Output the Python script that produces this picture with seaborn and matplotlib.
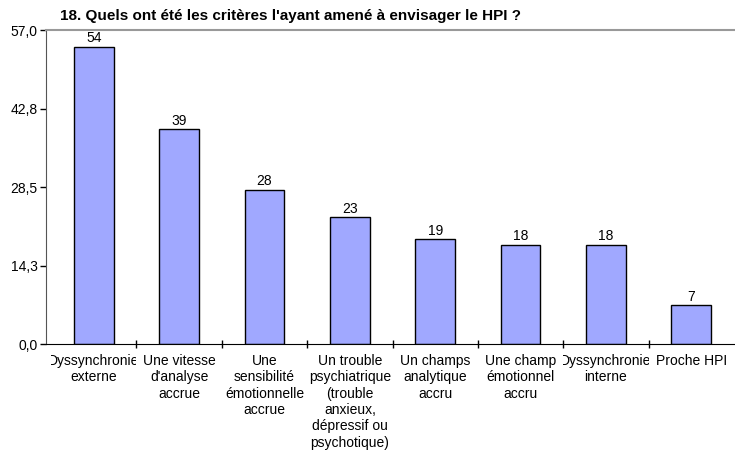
import matplotlib
matplotlib.use("Agg")
import matplotlib.pyplot as plt
from matplotlib.transforms import Bbox, TransformedBbox
import seaborn as sns
import pandas as pd
import numpy as np

# Data
categories = [
    "Dyssynchronie\nexterne",
    "Une vitesse\nd'analyse\naccrue",
    "Une\nsensibilité\némotionnelle\naccrue",
    "Un trouble\npsychiatrique\n(trouble\nanxieux,\ndépressif ou\npsychotique)",
    "Un champs\nanalytique\naccru",
    "Une champ\némotionnel\naccru",
    "Dyssynchronie\ninterne",
    "Proche HPI",
]
counts = [54, 39, 28, 23, 19, 18, 18, 7]
yticks = [0.0, 14.25, 28.5, 42.75, 57.0]
ytick_labels = ["0,0", "14,3", "28,5", "42,8", "57,0"]

df = pd.DataFrame({"Critère": categories, "Nombre": counts})

sns.set_style("white")
plt.rcParams["font.family"] = ["Liberation Sans", "DejaVu Sans"]
plt.rcParams["text.color"] = "black"
plt.rcParams["xtick.color"] = "black"
plt.rcParams["ytick.color"] = "black"

fig = plt.figure(figsize=(7.35, 4.59), dpi=100)
ax = fig.add_axes([0.0626, 0.2505, 0.936, 0.684])

sns.barplot(data=df, x="Critère", y="Nombre", color="#A0A8FF",
            edgecolor="black", linewidth=1.0, width=0.465, saturation=1, ax=ax)

for i, v in enumerate(counts):
    ax.text(i, v + 0.3, str(v), ha="center", va="bottom", fontsize=10)

ax.set_ylim(0, 57)
ax.set_xlim(-0.56, len(categories) - 0.5)
ax.set_yticks(yticks)
ax.set_yticklabels(ytick_labels, fontsize=10)
ax.set_xticks(range(len(categories)))
ax.set_xticklabels(categories, fontsize=10, linespacing=1.22)
ax.set_xticks(np.arange(0.5, len(categories) - 0.5, 1), minor=True)
ax.tick_params(axis="x", which="both", bottom=True)
ax.tick_params(axis="x", which="major", length=0, pad=7)
ax.tick_params(axis="x", which="minor", length=6, width=1, direction="inout")
ax.tick_params(axis="y", which="major", left=True, length=4, width=1,
               direction="out", pad=2)
ax.set_xlabel("")
ax.set_ylabel("")

# clip each category label to its own slot, like the spreadsheet does
for i, lab in enumerate(ax.get_xticklabels()):
    box = TransformedBbox(Bbox([[i - 0.5, -1.0], [i + 0.5, 0.0]]),
                          ax.get_xaxis_transform())
    lab.set_clip_box(box)
    lab.set_clip_on(True)

ax.spines["left"].set_color("#555555")
ax.spines["bottom"].set_color("black")
ax.spines["top"].set_color("#999999")
ax.spines["top"].set_linewidth(1.5)
ax.spines["right"].set_visible(False)

fig.text(0.082, 0.965, "18. Quels ont été les critères l'ayant amené à envisager le HPI ?",
         fontsize=11, fontweight="bold", ha="left", va="center")

fig.savefig("out.png", dpi=100)
